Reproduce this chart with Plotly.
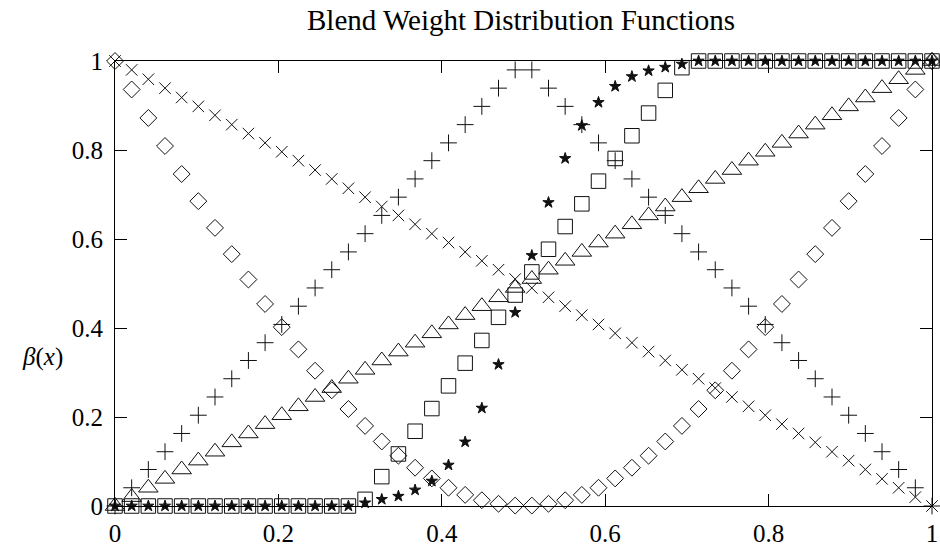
import plotly.graph_objects as go

# ---- data ----
x_vals = [0.0, 0.0204, 0.0408, 0.0612, 0.0816, 0.1020, 0.1224, 0.1429, 0.1633, 0.1837,
          0.2041, 0.2245, 0.2449, 0.2653, 0.2857, 0.3061, 0.3265, 0.3469, 0.3673, 0.3878,
          0.4082, 0.4286, 0.4490, 0.4694, 0.4898, 0.5102, 0.5306, 0.5510, 0.5714, 0.5918,
          0.6122, 0.6327, 0.6531, 0.6735, 0.6939, 0.7143, 0.7347, 0.7551, 0.7755, 0.7959,
          0.8163, 0.8367, 0.8571, 0.8776, 0.8980, 0.9184, 0.9388, 0.9592, 0.9796, 1.0]

diamond_vals = [1.0, 0.936, 0.872, 0.809, 0.746, 0.685, 0.625, 0.566, 0.509, 0.454,
                0.402, 0.352, 0.304, 0.260, 0.218, 0.180, 0.145, 0.113, 0.086, 0.062,
                0.041, 0.025, 0.013, 0.005, 0.001, 0.001, 0.005, 0.013, 0.025, 0.041,
                0.062, 0.086, 0.113, 0.145, 0.180, 0.218, 0.260, 0.304, 0.352, 0.402,
                0.454, 0.509, 0.566, 0.625, 0.685, 0.746, 0.809, 0.872, 0.936, 1.0]

plus_vals = [0.0, 0.041, 0.082, 0.122, 0.163, 0.204, 0.245, 0.286, 0.327, 0.367,
             0.408, 0.449, 0.490, 0.531, 0.571, 0.612, 0.653, 0.694, 0.735, 0.776,
             0.816, 0.857, 0.898, 0.939, 0.980, 0.980, 0.939, 0.898, 0.857, 0.816,
             0.776, 0.735, 0.694, 0.653, 0.612, 0.571, 0.531, 0.490, 0.449, 0.408,
             0.367, 0.327, 0.286, 0.245, 0.204, 0.163, 0.122, 0.082, 0.041, 0.0]

square_vals = [0.0, 0.0, 0.0, 0.0, 0.0, 0.0, 0.0, 0.0, 0.0, 0.0,
               0.0, 0.0, 0.0, 0.0, 0.0, 0.015, 0.066, 0.117, 0.168, 0.219,
               0.270, 0.321, 0.372, 0.424, 0.474, 0.526, 0.577, 0.628, 0.679, 0.730,
               0.781, 0.832, 0.883, 0.934, 0.985, 1.0, 1.0, 1.0, 1.0, 1.0,
               1.0, 1.0, 1.0, 1.0, 1.0, 1.0, 1.0, 1.0, 1.0, 1.0]

times_vals = [1.0, 0.980, 0.959, 0.939, 0.918, 0.898, 0.878, 0.857, 0.837, 0.816,
              0.796, 0.776, 0.755, 0.735, 0.714, 0.694, 0.673, 0.653, 0.633, 0.612,
              0.592, 0.571, 0.551, 0.531, 0.510, 0.490, 0.469, 0.449, 0.429, 0.408,
              0.388, 0.367, 0.347, 0.327, 0.306, 0.286, 0.265, 0.245, 0.224, 0.204,
              0.184, 0.163, 0.143, 0.122, 0.102, 0.082, 0.061, 0.041, 0.020, 0.0]

triangle_vals = [0.0, 0.020, 0.041, 0.061, 0.082, 0.102, 0.122, 0.143, 0.163, 0.184,
                 0.204, 0.224, 0.245, 0.265, 0.286, 0.306, 0.327, 0.347, 0.367, 0.388,
                 0.408, 0.429, 0.449, 0.469, 0.490, 0.510, 0.531, 0.551, 0.571, 0.592,
                 0.612, 0.633, 0.653, 0.673, 0.694, 0.714, 0.735, 0.755, 0.776, 0.796,
                 0.816, 0.837, 0.857, 0.878, 0.898, 0.918, 0.939, 0.959, 0.980, 1.0]

star_vals = [0.0, 0.0, 0.0, 0.0, 0.0, 0.0, 0.0, 0.0, 0.0, 0.0,
             0.0, 0.0, 0.0, 0.0, 0.0, 0.007, 0.015, 0.022, 0.036, 0.056,
             0.092, 0.144, 0.220, 0.318, 0.435, 0.563, 0.682, 0.781, 0.855, 0.907,
             0.943, 0.965, 0.978, 0.986, 0.993, 1.0, 1.0, 1.0, 1.0, 1.0,
             1.0, 1.0, 1.0, 1.0, 1.0, 1.0, 1.0, 1.0, 1.0, 1.0]

tick_vals = [0, 0.2, 0.4, 0.6, 0.8, 1]
tick_text = ["0", "0.2", "0.4", "0.6", "0.8", "1"]

title_text = "Blend Weight Distribution Functions"
ylabel_text = "<i>β</i>(<i>x</i>)"

FONT = "Liberation Serif"
INK = "#111111"

series = [
    (diamond_vals, "diamond-open", 13, None),
    (plus_vals, "cross-thin-open", 12, None),
    (square_vals, "square-open", 14.5, None),
    (times_vals, "x-thin-open", 11.5, None),
    (triangle_vals, "triangle-up-open", 17, None),
    (star_vals, "star", 8.5, INK),
]

fig = go.Figure()
for vals, sym, size, fill in series:
    fig.add_trace(go.Scatter(
        x=x_vals, y=vals, mode="markers", cliponaxis=False, showlegend=False,
        hoverinfo="skip",
        marker=dict(symbol=sym, size=size, color=fill if fill else INK,
                    line=dict(color=INK, width=1)),
    ))

axis_common = dict(
    range=[0, 1], tickvals=tick_vals, ticktext=tick_text,
    ticks="inside", ticklen=12, tickwidth=1, tickcolor="black",
    showline=True, linecolor="black", linewidth=1, mirror="allticks",
    showgrid=False, zeroline=False, automargin=False,
    tickfont=dict(family=FONT, size=25, color="black"),
)

fig.update_layout(
    width=940, height=549,
    margin=dict(l=114.5, r=7.5, t=61, b=43, pad=0, autoexpand=False),
    paper_bgcolor="white", plot_bgcolor="white",
    title=dict(text=title_text, x=0.497, xref="paper", xanchor="center",
               y=1 - 20 / 549, yref="container", yanchor="middle",
               font=dict(family=FONT, size=29, color="black")),
    xaxis=dict(**axis_common, ticklabelstandoff=5),
    yaxis=dict(**axis_common, ticklabelstandoff=6),
    annotations=[dict(text=ylabel_text, xref="paper", yref="paper",
                      x=(42 - 114.5) / 818, y=(506 - 357) / 445,
                      xanchor="center", yanchor="middle", showarrow=False,
                      font=dict(family=FONT, size=25, color="black"))],
)

fig.write_html("out.html", config={"displayModeBar": False},
               post_script="document.body.style.margin='0px';document.body.style.overflow='hidden';")
